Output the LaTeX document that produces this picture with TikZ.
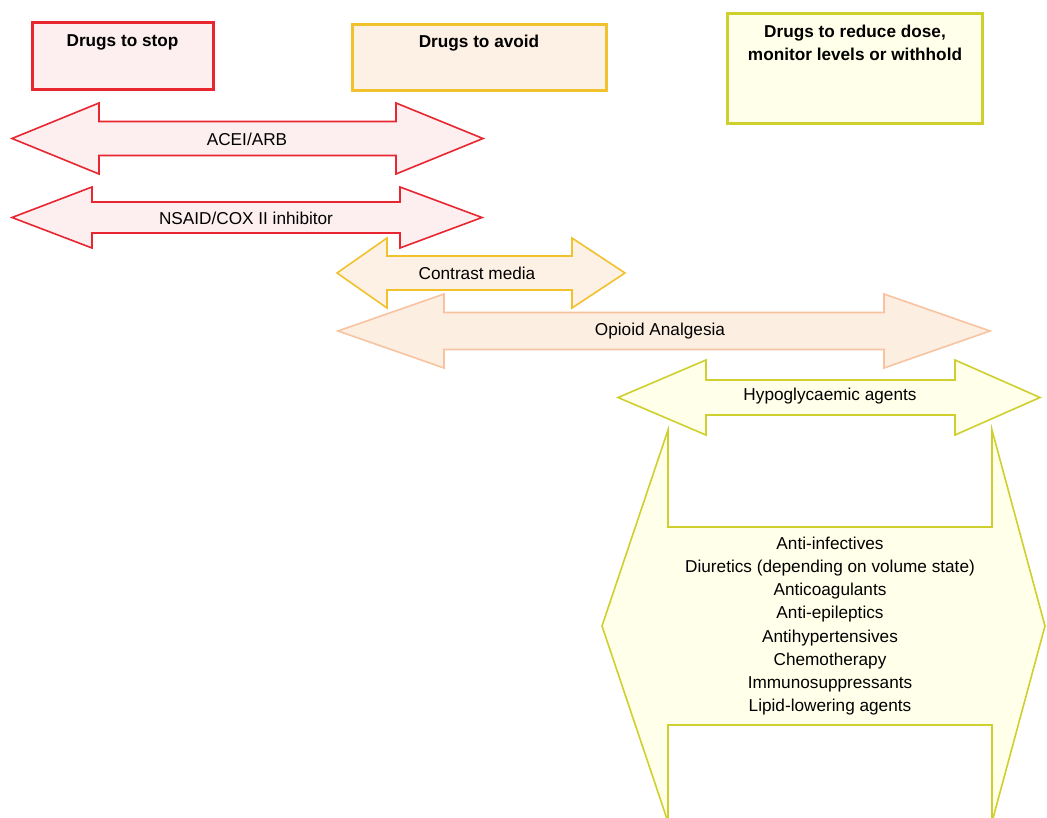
\documentclass[tikz,border=0pt]{standalone}
\usepackage{fontspec}
\setmainfont{Liberation Sans}
\definecolor{redL}{HTML}{E82630}
\definecolor{redF}{HTML}{FDEEF0}
\definecolor{goldL}{HTML}{F2C12E}
\definecolor{goldF}{HTML}{FDF0E4}
\definecolor{orL}{HTML}{F7C3A0}
\definecolor{orF}{HTML}{FDEEE2}
\definecolor{olL}{HTML}{CFCF2E}
\definecolor{olF}{HTML}{FFFFEA}
\newcommand\darrow[8]{% tipL baseL baseR tipR cy headhalf shafthalf style
  \filldraw[#8] (#1,#5) -- (#2,#5-#6) -- (#2,#5-#7) -- (#3,#5-#7) -- (#3,#5-#6)
    -- (#4,#5) -- (#3,#5+#6) -- (#3,#5+#7) -- (#2,#5+#7) -- (#2,#5+#6) -- cycle;}
\begin{document}
\begin{tikzpicture}[x=1pt,y=-1pt,
  hdr/.style={font=\fontsize{17.2}{23}\selectfont\bfseries, align=center, text=black},
  lbl/.style={font=\fontsize{17.2}{23.1}\selectfont, align=center, text=black},
  redA/.style={draw=redL, fill=redF, line width=1.6pt, line join=miter},
  goldA/.style={draw=goldL, fill=goldF, line width=1.6pt},
  orA/.style={draw=orL, fill=orF, line width=1.6pt},
  olA/.style={draw=olL, fill=olF, line width=1.6pt},
  boxS/.style={line width=3pt}]
\useasboundingbox (0,0) rectangle (1047,818);
\clip (0,0) rectangle (1047,818);
\fill[white] (0,0) rectangle (1047,818);
% header boxes
\filldraw[boxS, draw=redL, fill=redF] (32,23) rectangle (213,90);
\node[hdr] (stop) at (122.5,42) {Drugs to stop};
\filldraw[boxS, draw=goldL, fill=goldF] (352,25) rectangle (606,91);
\node[hdr] (avoid) at (479,43) {Drugs to avoid};
\filldraw[boxS, draw=olL, fill=olF] (727,14) rectangle (982,124);
\node[hdr] (reduce) at (855,43) {Drugs to reduce dose,\\monitor levels or withhold};
% arrows
\darrow{12}{99}{396}{483}{138.5}{35.5}{17}{redA}
\node[lbl] (acei) at (247,139) {ACEI/ARB};
\darrow{12}{92}{400}{482}{217.5}{30.5}{15.5}{redA}
\node[lbl] (nsaid) at (246,218) {NSAID/COX II inhibitor};
\darrow{337}{387}{572}{625}{273}{35}{17}{goldA}
\node[lbl] (contrast) at (477,273) {Contrast media};
\darrow{338}{444}{884}{990}{331}{37}{18.5}{orA}
\node[lbl] (opioid) at (660,331) {Opioid Analgesia};
\darrow{618}{706}{955}{1040}{397.5}{37.5}{17.5}{olA}
\node[lbl] (hypo) at (830,396) {Hypoglycaemic agents};
\darrow{602}{668}{992}{1045}{626}{196}{99}{olA}
\node[lbl] (list) at (830,626) {Anti-infectives\\Diuretics (depending on volume state)\\Anticoagulants\\Anti-epileptics\\Antihypertensives\\Chemotherapy\\Immunosuppressants\\Lipid-lowering agents};
\end{tikzpicture}
\end{document}
